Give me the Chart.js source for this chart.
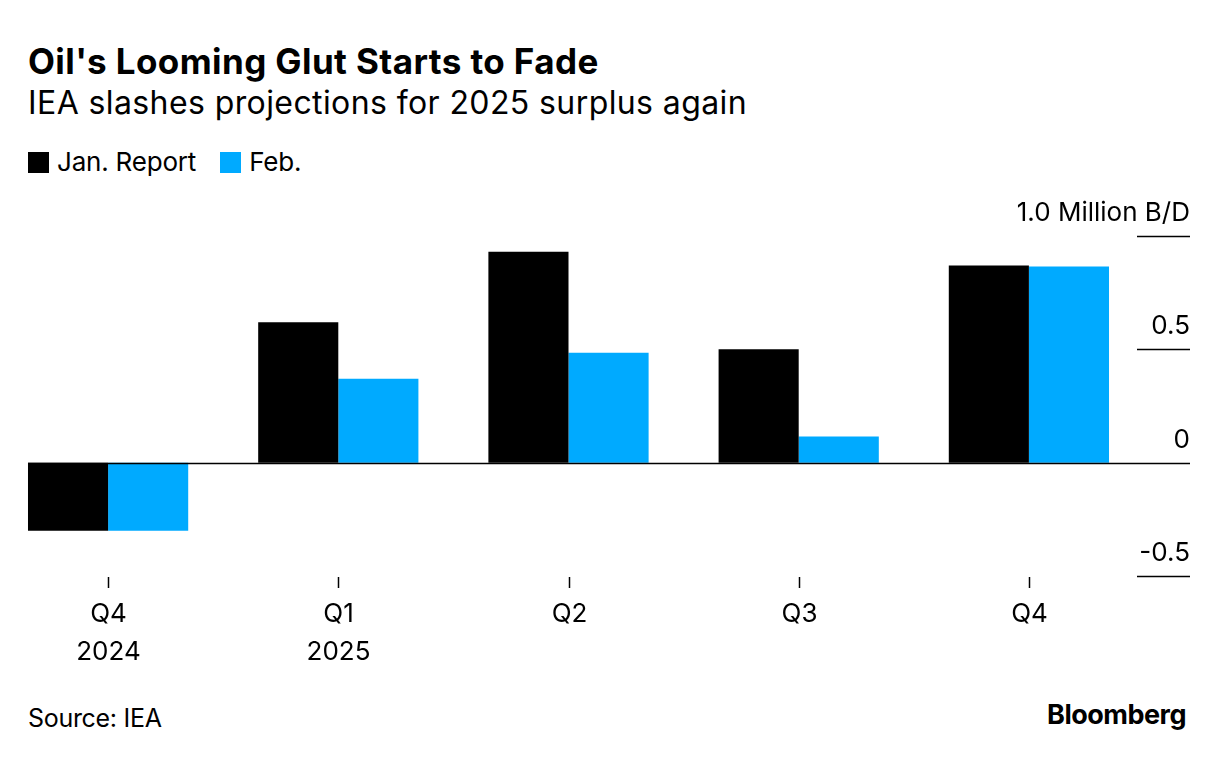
<!DOCTYPE html>
<html>
<head>
<meta charset="utf-8">
<script src="https://cdn.jsdelivr.net/npm/chart.js@4"></script>
<style>
body{margin:0;width:1224px;height:776px;overflow:hidden;background:#fff;font-family:Inter,"Liberation Sans",sans-serif;color:#000;position:relative}
.t{position:absolute;left:28px;white-space:nowrap}
#wrap{position:absolute;left:-7px;top:0;width:1231px;height:776px}
.sq{display:inline-block;width:21px;height:21px;vertical-align:-2px;margin-right:8px}
</style>
</head>
<body>
<div class="t" style="top:40px;font-size:35px;font-weight:700;letter-spacing:0.4px">Oil's Looming Glut Starts to Fade</div>
<div class="t" style="top:83px;font-size:32px;letter-spacing:0.4px">IEA slashes projections for 2025 surplus again</div>
<div class="t" style="top:146px;font-size:26px;letter-spacing:-0.2px"><span class="sq" style="background:#000"></span>Jan. Report<span class="sq" style="background:#00aaff;margin-left:24px"></span>Feb.</div>
<div class="t" style="top:703px;font-size:25px;letter-spacing:-0.3px">Source: IEA</div>
<div class="t" style="top:698px;left:auto;right:38px;font-size:27px;font-weight:700;letter-spacing:-0.5px">Bloomberg</div>
<div id="wrap"><canvas id="c"></canvas></div>
<script>
var quarters = [["Q4","2024"],["Q1","2025"],["Q2"],["Q3"],["Q4"]];
var janReport = [-0.30, 0.62, 0.93, 0.50, 0.87];
var febReport = [-0.30, 0.37, 0.485, 0.115, 0.865];
var yTicks = [1.0, 0.5, 0, -0.5];
var yTickLabels = ["1.0 Million B/D", "0.5", "0", "-0.5"];

var axesPlugin = {
    id: 'axesPlugin',
    afterDatasetsDraw: function(chart){
        var ctx = chart.ctx, y = chart.scales.y, x = chart.scales.x;
        ctx.save();
        ctx.font = '26px Inter, "Liberation Sans", sans-serif';
        ctx.fillStyle = '#000';
        ctx.strokeStyle = '#000';
        ctx.lineWidth = 1.5;
        for(var i = 0; i < yTicks.length; i++){
            var py = Math.round(y.getPixelForValue(yTicks[i])) + 0.5;
            ctx.beginPath();
            ctx.moveTo(yTicks[i] == 0 ? 35 : 1144, py);
            ctx.lineTo(1197, py);
            ctx.stroke();
            ctx.textAlign = 'right';
            ctx.textBaseline = 'bottom';
            ctx.fillText(yTickLabels[i], 1197, py - 10);
        }
        ctx.textAlign = 'center';
        ctx.textBaseline = 'middle';
        for(var j = 0; j < quarters.length; j++){
            var px = Math.round(x.getPixelForValue(j)) + 0.5;
            ctx.beginPath();
            ctx.moveTo(px, 577);
            ctx.lineTo(px, 588);
            ctx.stroke();
            for(var k = 0; k < quarters[j].length; k++){
                ctx.fillText(quarters[j][k], px, 614 + k * 38);
            }
        }
        ctx.restore();
    }
};

new Chart(document.getElementById('c'), {
    type: 'bar',
    data: {
        labels: quarters.map(function(q){ return q.join(' '); }),
        datasets: [
            {label: 'Jan. Report', data: janReport, backgroundColor: '#000'},
            {label: 'Feb.', data: febReport, backgroundColor: '#00aaff'}
        ]
    },
    options: {
        responsive: true,
        maintainAspectRatio: false,
        animation: false,
        layout: {padding: {top: 236, bottom: 200, left: 0, right: 80}},
        datasets: {bar: {barPercentage: 1, categoryPercentage: 0.696}},
        plugins: {legend: {display: false}, tooltip: {enabled: false}},
        scales: {
            x: {display: false},
            y: {display: false, min: -0.5, max: 1.0}
        }
    },
    plugins: [axesPlugin]
});
</script>
</body>
</html>
